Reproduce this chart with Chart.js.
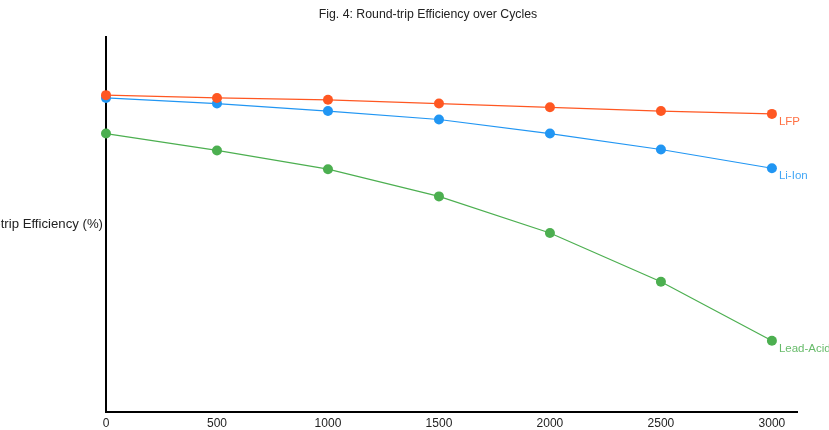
<!DOCTYPE html>
<html>
<head>
<meta charset="utf-8">
<script src="https://cdn.jsdelivr.net/npm/chart.js@4"></script>
<style>
  html, body { margin: 0; padding: 0; background: #fff; }
  #wrap { width: 829px; height: 430px; position: relative; }
</style>
</head>
<body>
<div id="wrap"><canvas id="myChart"></canvas></div>
<script>
// cycles on the x axis
const cycles = [0, 500, 1000, 1500, 2000, 2500, 3000];

// round-trip efficiency (%) per chemistry
const lfp = [93.8, 93.5, 93.3, 92.9, 92.5, 92.1, 91.8];
const liIon = [93.5, 92.9, 92.1, 91.2, 89.7, 88.0, 86.0];
const leadAcid = [89.7, 87.9, 85.9, 83.0, 79.1, 73.9, 67.6];

const seriesNames = ['LFP', 'Li-Ion', 'Lead-Acid'];
const seriesColors = ['#FF5722', '#2196F3', '#4CAF50'];

const titleText = 'Fig. 4: Round-trip Efficiency over Cycles';
const yTitle = 'Round-trip Efficiency (%)';

const fontFamily = '"Liberation Sans", Arial, sans-serif';

function makeDataset(name, values, color) {
  return {
    label: name,
    data: cycles.map((c, i) => ({ x: c, y: values[i] })),
    borderColor: color,
    backgroundColor: color,
    borderWidth: 1.2,
    pointRadius: 5,
    pointHoverRadius: 5,
    pointBorderWidth: 0,
    tension: 0,
    fill: false,
    clip: false
  };
}

// draws title, horizontal y title and end-of-line labels
const extrasPlugin = {
  id: 'extras',
  afterDraw(chart) {
    const ctx = chart.ctx;
    const area = chart.chartArea;
    const xs = chart.scales.x;
    const ys = chart.scales.y;
    ctx.save();

    ctx.fillStyle = '#222';
    ctx.font = '12.3px ' + fontFamily;
    ctx.textAlign = 'center';
    ctx.textBaseline = 'middle';
    ctx.fillText(titleText, 428, 15);

    ctx.font = '13.2px ' + fontFamily;
    ctx.textAlign = 'right';
    ctx.fillText(yTitle, area.left - 3, (area.top + area.bottom) / 2);

    ctx.font = '11.5px ' + fontFamily;
    ctx.textAlign = 'left';
    ctx.globalAlpha = 0.85;
    chart.data.datasets.forEach((ds, i) => {
      const last = ds.data[ds.data.length - 1];
      ctx.fillStyle = seriesColors[i];
      ctx.fillText(seriesNames[i], xs.getPixelForValue(last.x) + 7, ys.getPixelForValue(last.y) + 8);
    });
    ctx.restore();
  }
};

const ctx = document.getElementById('myChart').getContext('2d');
new Chart(ctx, {
  type: 'line',
  data: {
    datasets: [
      makeDataset(seriesNames[0], lfp, seriesColors[0]),
      makeDataset(seriesNames[1], liIon, seriesColors[1]),
      makeDataset(seriesNames[2], leadAcid, seriesColors[2])
    ]
  },
  options: {
    responsive: true,
    maintainAspectRatio: false,
    animation: false,
    layout: { padding: { left: 106, right: 32, top: 37, bottom: 0 } },
    plugins: {
      legend: { display: false },
      title: { display: false },
      tooltip: { enabled: false }
    },
    scales: {
      x: {
        type: 'linear',
        min: 0,
        max: 3113,
        afterBuildTicks: scale => {
          scale.ticks = cycles.map(v => ({ value: v }));
        },
        afterFit: scale => { scale.height = 18; },
        ticks: {
          autoSkip: false,
          maxRotation: 0,
          color: '#222',
          font: { family: fontFamily, size: 12 },
          padding: 4,
          callback: value => String(value)
        },
        grid: { display: false, drawTicks: false },
        border: { color: '#000', width: 2 }
      },
      y: {
        min: 60,
        max: 100,
        ticks: { display: false },
        grid: { display: false, drawTicks: false },
        border: { color: '#000', width: 2 }
      }
    }
  },
  plugins: [extrasPlugin]
});
</script>
</body>
</html>
